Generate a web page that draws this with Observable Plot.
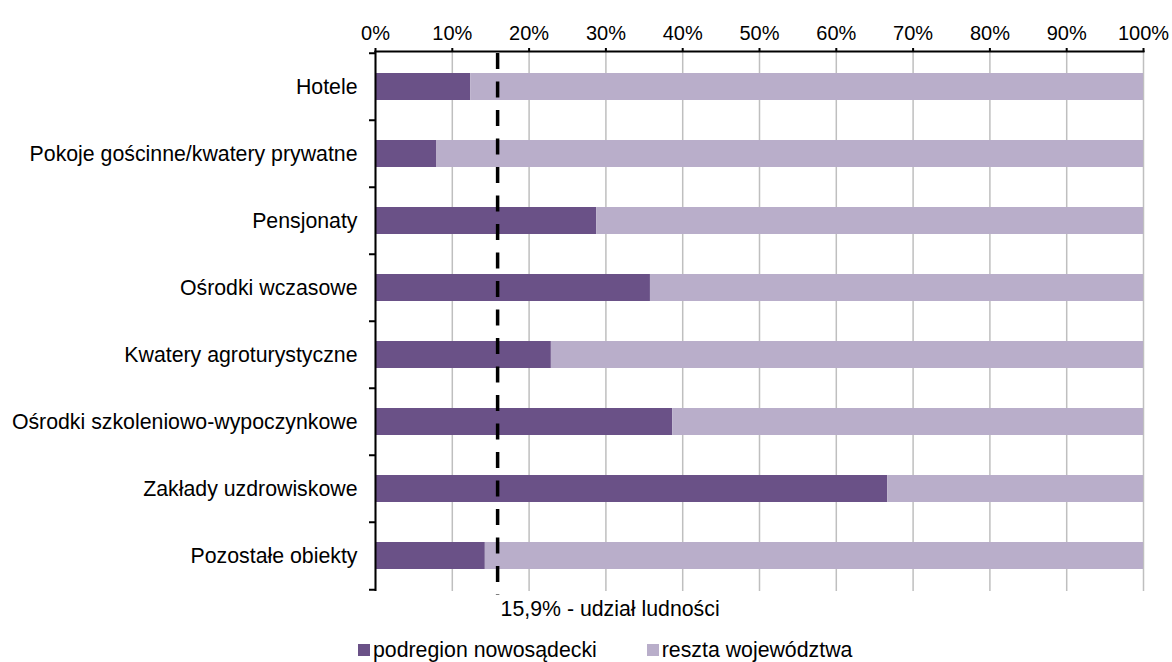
<!DOCTYPE html>
<html>
<head>
<meta charset="utf-8">
<script src="https://cdn.jsdelivr.net/npm/d3@7"></script>
<script src="https://cdn.jsdelivr.net/npm/@observablehq/plot@0.6"></script>
<style>
  body { margin: 0; background: #fff; font-family: Arial, "Liberation Sans", sans-serif; }
  #chart { width: 1172px; }
  .legend { display: flex; align-items: center; padding-left: 358px; margin-top: 13px; height: 24px; font-size: 21.3px; line-height: 24px; color: #000; }
  .item { display: flex; align-items: center; }
  .sw { width: 12px; height: 12px; margin-right: 3px; display: inline-block; }
</style>
</head>
<body>
<div id="chart"></div>
<script>
const categories = [
  "Hotele",
  "Pokoje gościnne/kwatery prywatne",
  "Pensjonaty",
  "Ośrodki wczasowe",
  "Kwatery agroturystyczne",
  "Ośrodki szkoleniowo-wypoczynkowe",
  "Zakłady uzdrowiskowe",
  "Pozostałe obiekty"
];
const podregion = [12.4, 8.0, 28.8, 35.8, 22.9, 38.7, 66.7, 14.3];
const reszta    = [87.6, 92.0, 71.2, 64.2, 77.1, 61.3, 33.3, 85.7];
const seriesNames = ["podregion nowosądecki", "reszta województwa"];
const seriesColors = ["#6a5187", "#b9aeca"];
const populationShare = 15.9;
const populationLabel = "15,9% - udział ludności";
const xTicks = [0, 10, 20, 30, 40, 50, 60, 70, 80, 90, 100];

const rows = [];
categories.forEach((c, i) => {
  rows.push({cat: c, series: seriesNames[0], value: podregion[i]});
  rows.push({cat: c, series: seriesNames[1], value: reszta[i]});
});

const width = 1172, height = 625;
const marginTop = 51, marginBottom = 34, marginLeft = 375, marginRight = 29;
const step = (height - marginTop - marginBottom) / categories.length;

const plot = Plot.plot({
  width, height, marginTop, marginBottom, marginLeft, marginRight,
  style: {fontFamily: 'Arial, "Liberation Sans", sans-serif', fontSize: "20px", color: "#000", background: "#fff"},
  x: {domain: [0, 100]},
  y: {domain: categories, paddingInner: 0.6, paddingOuter: 0.3},
  color: {domain: seriesNames, range: seriesColors},
  marks: [
    Plot.gridX(xTicks, {stroke: "#bfbfbf", strokeOpacity: 1, strokeWidth: 1.5}),
    Plot.barX(rows, Plot.stackX({y: "cat", x: "value", fill: "series", order: seriesNames})),
    Plot.ruleX([populationShare], {stroke: "#000", strokeWidth: 3.5, strokeDasharray: "16,12.5", insetBottom: -4, insetTop: 2}),
    Plot.text([populationLabel], {x: populationShare, frameAnchor: "bottom", dy: 18, dx: 3, textAnchor: "start", lineAnchor: "middle", fontSize: 21.3, fill: "#000"}),
    // y axis line
    Plot.ruleX([0], {stroke: "#000", strokeWidth: 2}),
    // boundary ticks on the y axis
    Plot.ruleY(categories, {x1: 0, x2: 0, insetLeft: -6, dy: -step / 2, stroke: "#000", strokeWidth: 2}),
    Plot.ruleY([categories[categories.length - 1]], {x1: 0, x2: 0, insetLeft: -6, dy: step / 2, stroke: "#000", strokeWidth: 2}),
    Plot.axisY({tickSize: 0, tickPadding: 18, label: null, fontSize: 21.3}),
    Plot.axisX({anchor: "top", ticks: xTicks, tickFormat: d => d + "%", tickSize: 4, tickPadding: 8, label: null, fontSize: 20, strokeWidth: 2}),
    Plot.frame({anchor: "top", stroke: "#000", strokeWidth: 2})
  ]
});
document.getElementById("chart").appendChild(plot);

const legend = document.createElement("div");
legend.className = "legend";
seriesNames.forEach((name, i) => {
  const item = document.createElement("span");
  item.className = "item";
  if (i > 0) item.style.marginLeft = "50px";
  const sw = document.createElement("span");
  sw.className = "sw";
  sw.style.background = seriesColors[i];
  item.appendChild(sw);
  item.appendChild(document.createTextNode(name));
  legend.appendChild(item);
});
document.body.appendChild(legend);
</script>
</body>
</html>
